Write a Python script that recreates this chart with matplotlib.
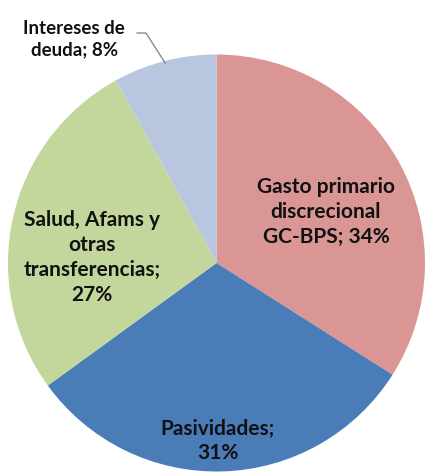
import numpy as np
import matplotlib
matplotlib.use('Agg')
import matplotlib.pyplot as plt

# composicion del gasto
categorias = ['Gasto primario\ndiscrecional\nGC-BPS', 'Pasividades',
              'Salud, Afams y\notras\ntransferencias', 'Intereses de\ndeuda']
porcentajes = [34, 31, 27, 8]
colores = ['#D99694', '#4A7CB8', '#C3D69B', '#B9C6E0']

# donde va cada etiqueta (en unidades del radio)
pos_etiquetas = [(0.525, 0.245), (0.007, -0.854), (-0.597, 0.026), (-0.683, 1.074)]
separador = ['; ', ';\n', ';\n', '; ']
tam_letra = [15, 15, 15, 13.5]

fig = plt.figure(figsize=(4.30, 4.74), dpi=100)
ax = fig.add_axes([8 / 430, 2.5 / 474, 417 / 430, 417 / 474])

wedges, _ = ax.pie(porcentajes, colors=colores, startangle=90, counterclock=False,
                   radius=1, wedgeprops=dict(linewidth=0))
ax.set_xlim(-1, 1)
ax.set_ylim(-1, 1)
ax.axis('off')

for i in range(len(categorias)):
    txt = categorias[i] + separador[i] + str(porcentajes[i]) + '%'
    x, y = pos_etiquetas[i]
    ax.text(x, y, txt, ha='center', va='center', fontsize=tam_letra[i], fontweight='bold',
            family='Lato', color='#111111', linespacing=1.3, clip_on=False)

# linea guia de intereses
ang = np.deg2rad(90 + 360 * porcentajes[3] / 200)
x1, y1 = np.cos(ang) * 0.99, np.sin(ang) * 0.99
ax.plot([(137 - 216.5) / 208.5, (146 - 216.5) / 208.5, x1],
        [(263 - 33) / 208.5, (263 - 33) / 208.5, y1],
        color='#808080', lw=0.9, clip_on=False)

plt.savefig('out.png', dpi=100)
